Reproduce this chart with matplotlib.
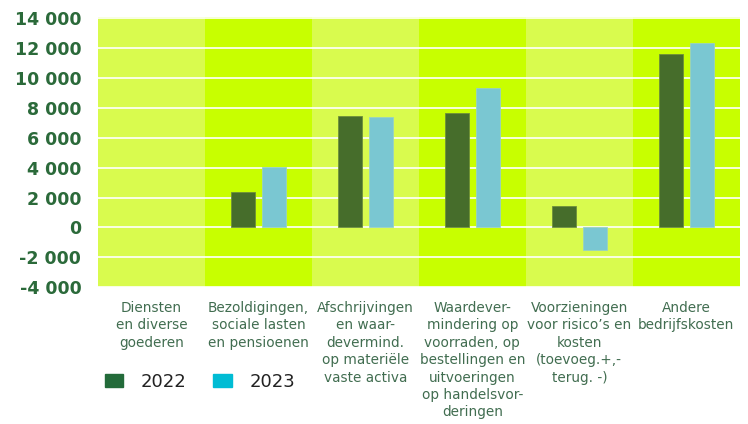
import matplotlib.pyplot as plt
import numpy as np
from matplotlib.patches import Patch

categories = ['Diensten\nen diverse\ngoederen',
              'Bezoldigingen,\nsociale lasten\nen pensioenen',
              'Afschrijvingen\nen waar-\ndevermind.\nop materiële\nvaste activa',
              'Waardever-\nmindering op\nvoorraden, op\nbestellingen en\nuitvoeringen\nop handelsvor-\nderingen',
              'Voorzieningen\nvoor risico\u2019s en\nkosten\n(toevoeg.+,-\nterug. -)',
              'Andere\nbedrijfskosten']
v2022 = [np.nan, 2350, 7470, 7650, 1460, 11620]
v2023 = [np.nan, 4040, 7400, 9350, -1500, 12330]
yticks = [-4000, -2000, 0, 2000, 4000, 6000, 8000, 10000, 12000, 14000]

plt.rcParams['font.family'] = ['DejaVu Sans']

fig = plt.figure(figsize=(7.48, 4.24), dpi=100)
ax = fig.add_axes([0.131, 0.323, 0.858, 0.637])

x = np.arange(len(categories))
# achtergrondbanden
for i in x:
    c = '#d9fb4e' if i % 2 == 0 else '#c8ff00'
    ax.axvspan(i - 0.5, i + 0.5, color=c, zorder=0, lw=0)
for t in yticks:
    ax.axhline(t, color='white', lw=1.2, zorder=1)

w = 0.225
ax.bar(x - 0.145, v2022, w, color='#466d2b', edgecolor='#6e8f3a', lw=0.6, zorder=2)
ax.bar(x + 0.145, v2023, w, color='#7ac7d2', edgecolor='#9ad2c0', lw=0.6, zorder=2)

ax.set_xlim(-0.5, len(categories) - 0.5)
ax.set_ylim(-4000, 14100)
ax.set_yticks(yticks)
ax.set_yticklabels([f'{t:,}'.replace(',', ' ') for t in yticks],
                   fontsize=12.5, fontweight='bold', color='#2b6a3a')
ax.tick_params(axis='y', length=0, pad=12)
ax.set_xticks(x)
ax.set_xticklabels(categories, fontsize=9.8, color='#416d50', va='top', linespacing=1.31)
ax.tick_params(axis='x', length=0, pad=10)
for s in ax.spines.values():
    s.set_visible(False)

handles = [Patch(color='#236b3a'), Patch(color='#00bcd4')]
fig.legend(handles, ['2022', '2023'], loc='center left', bbox_to_anchor=(0.118, 0.099),
           ncol=2, frameon=False, fontsize=13, handlelength=1.0, handleheight=0.7,
           columnspacing=1.5, handletextpad=1.0, labelcolor='#222222')

fig.savefig('out.png', dpi=100)
